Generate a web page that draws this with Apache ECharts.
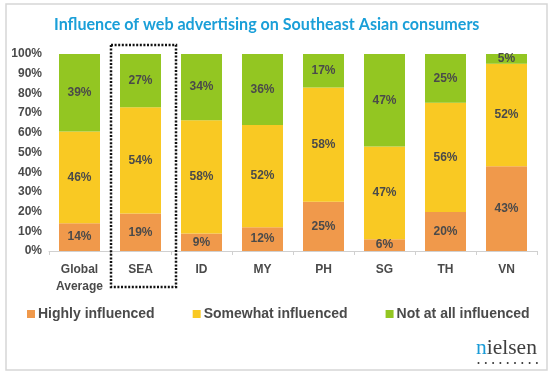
<!DOCTYPE html>
<html>
<head>
<meta charset="utf-8">
<script src="https://cdn.jsdelivr.net/npm/echarts@6/dist/echarts.min.js"></script>
<style>
  html, body { margin: 0; padding: 0; background: #fff; }
  #chart { width: 553px; height: 377px; }
</style>
</head>
<body>
<div id="chart"></div>
<script>
const categories = ['Global\nAverage', 'SEA', 'ID', 'MY', 'PH', 'SG', 'TH', 'VN']
const highly = [14, 19, 9, 12, 25, 6, 20, 43]
const somewhat = [46, 54, 58, 52, 58, 47, 56, 52]
const notAtAll = [39, 27, 34, 36, 17, 47, 25, 5]
const yTicks = [0, 10, 20, 30, 40, 50, 60, 70, 80, 90, 100]

const seriesNames = ['Highly influenced', 'Somewhat influenced', 'Not at all influenced']
const seriesColors = ['#f0994b', '#f9c923', '#93c622']
const labelColor = '#4a4a4a'

// the bars are shown as a 100% stack, so scale each column by its total
const totals = categories.map((c, i) => highly[i] + somewhat[i] + notAtAll[i])
function shares(arr) {
    return arr.map((v, i) => ({ value: v / totals[i] * 100, raw: v }))
}

const chart = echarts.init(document.getElementById('chart'), null, { renderer: 'canvas' })

function makeSeries(name, arr, color) {
    return {
        name: name,
        type: 'bar',
        stack: 'total',
        barWidth: 41,
        data: shares(arr),
        itemStyle: { color: color },
        label: {
            show: true,
            position: 'inside',
            color: labelColor,
            fontFamily: 'Liberation Sans',
            fontWeight: 'bold',
            fontSize: 12,
            formatter: (p) => p.data.raw + '%'
        }
    }
}

const options = {
    animation: false,
    title: {
        text: 'Influence of web advertising on Southeast Asian consumers',
        left: 49,
        top: 12,
        textStyle: {
            color: '#1a9fd8',
            fontFamily: 'Lato',
            fontWeight: 'bold',
            fontSize: 16.1
        }
    },
    grid: { left: 49, right: 16, top: 54, bottom: 126 },
    legend: {
        left: 27,
        top: 307,
        padding: 0,
        itemWidth: 8,
        itemHeight: 8,
        itemGap: 38,
        icon: 'rect',
        data: seriesNames,
        textStyle: {
            color: labelColor,
            fontFamily: 'Liberation Sans',
            fontWeight: 'bold',
            fontSize: 14,
            padding: [0, 0, 0, -2]
        }
    },
    xAxis: {
        type: 'category',
        data: categories,
        axisLine: { lineStyle: { color: '#d0d0d0' } },
        axisTick: { show: true, length: 4, lineStyle: { color: '#d0d0d0' } },
        axisLabel: {
            color: labelColor,
            fontFamily: 'Liberation Sans',
            fontWeight: 'bold',
            fontSize: 12,
            margin: 10,
            lineHeight: 17
        }
    },
    yAxis: {
        type: 'value',
        min: yTicks[0],
        max: yTicks[yTicks.length - 1],
        interval: 10,
        axisLine: { show: false },
        axisTick: { show: false },
        splitLine: { show: false },
        axisLabel: {
            color: labelColor,
            fontFamily: 'Liberation Sans',
            fontWeight: 'bold',
            fontSize: 12,
            margin: 7,
            formatter: '{value}%'
        }
    },
    series: [
        makeSeries(seriesNames[0], highly, seriesColors[0]),
        makeSeries(seriesNames[1], somewhat, seriesColors[1]),
        makeSeries(seriesNames[2], notAtAll, seriesColors[2])
    ]
}

chart.setOption(options)

// dotted box around the SEA column and the page frame / logo
const seaX = chart.convertToPixel({ xAxisIndex: 0 }, 'SEA')
const topY = chart.convertToPixel({ yAxisIndex: 0 }, 100)

let graphics = [
    {
        type: 'rect',
        shape: { x: 6, y: 4, width: 541, height: 366 },
        style: { fill: 'none', stroke: '#d6d6d6', lineWidth: 1.5 },
        silent: true
    },
    {
        type: 'rect',
        shape: { x: seaX - 29.5, y: topY - 9, width: 65, height: 242 },
        style: { fill: 'none', stroke: '#111', lineWidth: 2.5, lineDash: [2, 1.6] },
        silent: true,
        z: 100
    },
    {
        type: 'text',
        left: 476,
        top: 337,
        style: {
            text: '{n|n}{r|ielsen}',
            rich: {
                n: { fill: '#1a9bd7', fontFamily: 'Liberation Serif', fontSize: 21.5 },
                r: { fill: '#3f3f3f', fontFamily: 'Liberation Serif', fontSize: 21.5 }
            }
        }
    }
]
// the dotted rule under the logo
for (let i = 0; i < 9; i++) {
    graphics.push({
        type: 'circle',
        shape: { cx: 478.5 + i * 7.3, cy: 363, r: 1 },
        style: { fill: '#333' },
        silent: true
    })
}

chart.setOption({ graphic: graphics })
</script>
</body>
</html>
